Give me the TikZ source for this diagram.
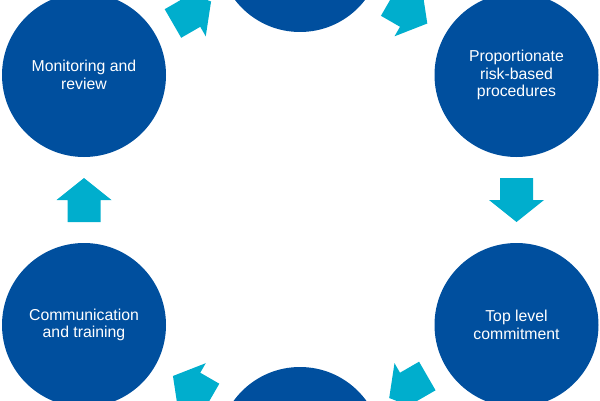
\documentclass[tikz,border=0pt]{standalone}
\usepackage{fontspec}
\setmainfont{Liberation Sans}
\usetikzlibrary{calc}
\definecolor{circblue}{RGB}{0,79,158}
\definecolor{arrcyan}{RGB}{0,174,205}
\tikzset{
  stage/.style={circle, fill=circblue, draw=none, minimum size=164pt, inner sep=0pt,
    text=white, align=center, font=\fontsize{15.8pt}{17.4pt}\selectfont},
  flowarrow/.style={fill=arrcyan, draw=none}
}
\newcommand{\blockarrow}[2]{%
  \fill[flowarrow, shift={(#1)}, rotate=#2]
    (-22,-16.5) -- (0,-16.5) -- (0,-27.5) -- (22,0) -- (0,27.5) -- (0,16.5) -- (-22,16.5) -- cycle;}
\begin{document}
\begin{tikzpicture}[x=1pt,y=1pt]
\useasboundingbox (0,0) rectangle (600,400);
\clip (0,0) rectangle (600,400);
\node[stage] (top) at (300,450) {};
\node[stage] (tr) at (516.5,325) {Proportionate\\risk-based\\procedures};
\node[stage] (br) at (516.5,75) {Top level\\commitment};
\node[stage] (bot) at (300,-49) {};
\node[stage] (bl) at (84,75) {Communication\\and training};
\node[stage] (tl) at (84,325) {Monitoring and\\review};
\coordinate (m1) at ($(tl)!0.5!(top)$);
\coordinate (m2) at ($(top)!0.5!(tr)$);
\coordinate (m3) at ($(tr)!0.5!(br)$);
\coordinate (m4) at ($(br)!0.5!(bot)$);
\coordinate (m5) at ($(bot)!0.5!(bl)$);
\coordinate (m6) at ($(bl)!0.5!(tl)$);
\blockarrow{m1}{30}
\blockarrow{m2}{-30}
\blockarrow{m3}{-90}
\blockarrow{m4}{-150}
\blockarrow{m5}{150}
\blockarrow{m6}{90}
\end{tikzpicture}
\end{document}
